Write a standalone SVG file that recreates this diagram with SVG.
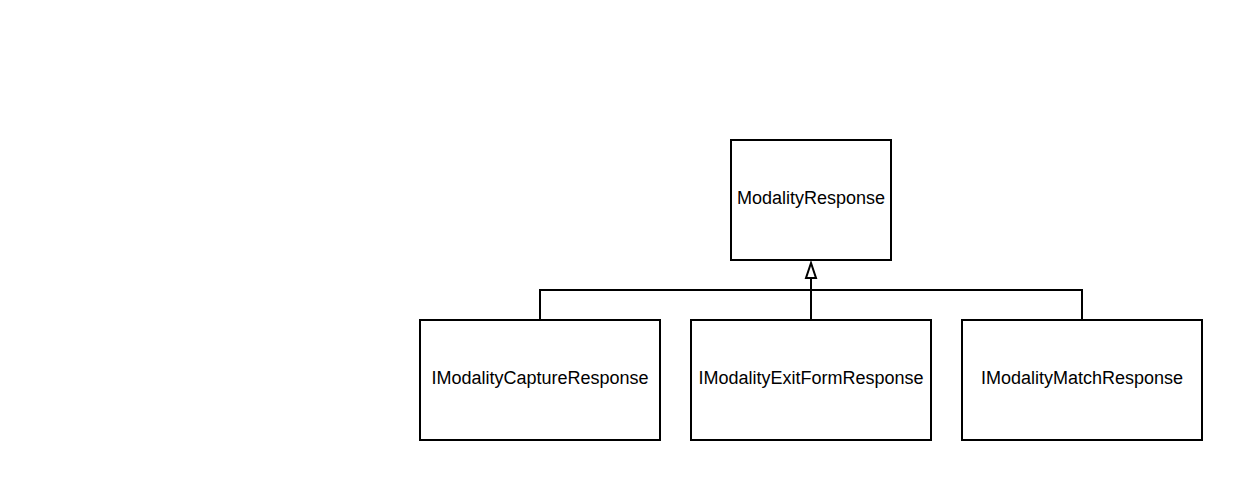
<svg xmlns="http://www.w3.org/2000/svg" width="1242" height="480" viewBox="0 0 1242 480">
<defs>
<style>
.box{fill:#ffffff;stroke:#000000;stroke-width:2}
.lbl{font-family:"Liberation Sans",Arial,sans-serif;font-size:18px;fill:#000000;text-anchor:middle}
.edge{fill:none;stroke:#000000;stroke-width:2}
</style>
<marker id="tri" viewBox="0 0 18 14" refX="16" refY="7" markerWidth="18" markerHeight="14" markerUnits="userSpaceOnUse" orient="auto">
<path d="M16,7 L1,2 L1,12 Z" fill="#ffffff" stroke="#000000" stroke-width="2" stroke-linejoin="miter"/>
</marker>
</defs>
<rect width="1242" height="480" fill="#ffffff"/>
<g id="connectors">
<path class="edge" d="M540,320 L540,290 L1082,290 L1082,320"/>
<path class="edge" d="M811,320 L811,263" marker-end="url(#tri)"/>
</g>
<g id="ModalityResponse">
<rect class="box" x="731" y="140" width="160" height="120"/>
<text class="lbl" x="811" y="204">ModalityResponse</text>
</g>
<g id="IModalityCaptureResponse">
<rect class="box" x="420" y="320" width="240" height="120"/>
<text class="lbl" x="540" y="384">IModalityCaptureResponse</text>
</g>
<g id="IModalityExitFormResponse">
<rect class="box" x="691" y="320" width="240" height="120"/>
<text class="lbl" x="811" y="384">IModalityExitFormResponse</text>
</g>
<g id="IModalityMatchResponse">
<rect class="box" x="962" y="320" width="240" height="120"/>
<text class="lbl" x="1082" y="384">IModalityMatchResponse</text>
</g>
</svg>
